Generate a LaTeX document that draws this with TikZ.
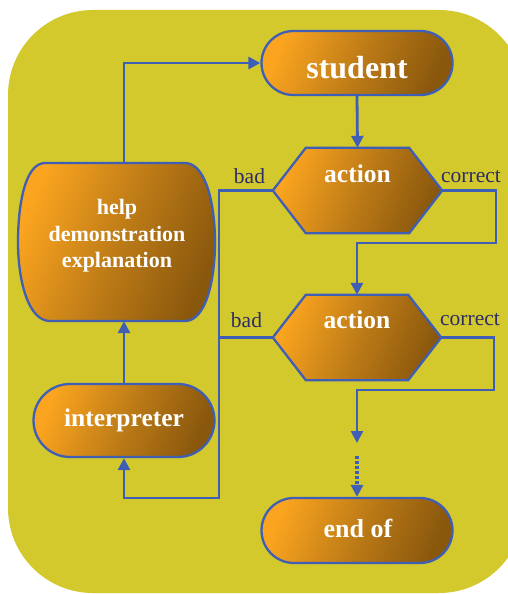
\documentclass[tikz,border=0pt]{standalone}
\usepackage{fontspec}
\setmainfont{Liberation Serif}
\usetikzlibrary{arrows.meta,shapes.misc}
\definecolor{bgyel}{HTML}{D3C92C}
\definecolor{lineblue}{HTML}{3F5EB5}
\definecolor{orlight}{HTML}{FAA41F}
\definecolor{ormid}{HTML}{BF7C17}
\definecolor{ordark}{HTML}{8A580D}
\definecolor{labnavy}{HTML}{2C2D66}
\begin{document}
\begin{tikzpicture}[x=1pt,y=-1pt,
  box/.style={draw=lineblue,line width=2.3pt,top color=orlight,bottom color=ordark,middle color=ormid,shading angle=68},
  stadium/.style={box,rounded rectangle,inner sep=0pt},
  holder/.style={draw=none,inner sep=0pt},
  conn/.style={draw=lineblue,line width=2.8pt,-{Triangle[length=12pt,width=12pt]}},
  plainline/.style={draw=lineblue,line width=2.8pt},
  dotconn/.style={draw=lineblue,line width=3.2pt,dash pattern=on 3pt off 2pt,-{Triangle[length=12pt,width=12pt]}},
  ntxt/.style={text=white,font=\bfseries\fontsize{25.5}{30}\selectfont,anchor=base,inner sep=0pt},
  lab/.style={text=labnavy,font=\fontsize{21.5}{24}\selectfont,anchor=base,inner sep=0pt}
]
\useasboundingbox (0,0) rectangle (508,594);
\clip (0,0) rectangle (508,594);
\fill[bgyel,rounded corners=85pt] (8,10) rectangle (524,593);

% shapes
\node[stadium,minimum width=191pt,minimum height=64pt] (student) at (357,63) {};
\node[holder,minimum width=169pt,minimum height=85pt] (a1) at (357.5,190.5) {};
\path[box] (a1.west) -- ([xshift=33pt]a1.north west) -- ([xshift=-33pt]a1.north east) -- (a1.east)
  -- ([xshift=-33pt]a1.south east) -- ([xshift=33pt]a1.south west) -- cycle;
\node[holder,minimum width=168pt,minimum height=85pt] (a2) at (357,337.5) {};
\path[box] (a2.west) -- ([xshift=33pt]a2.north west) -- ([xshift=-33pt]a2.north east) -- (a2.east)
  -- ([xshift=-33pt]a2.south east) -- ([xshift=33pt]a2.south west) -- cycle;
\node[holder,minimum width=197pt,minimum height=158pt] (help) at (116.5,242) {};
\path[box] (45,163) -- (185,163) .. controls (206,163) and (215,205) .. (215,242)
  .. controls (215,280) and (206,321) .. (185,321) -- (50,321)
  .. controls (28,321) and (18,280) .. (18,242) .. controls (18,205) and (25,163) .. (45,163) -- cycle;
\node[stadium,minimum width=181pt,minimum height=73pt] (interp) at (124,420.5) {};
\node[stadium,minimum width=191pt,minimum height=65pt] (endof) at (357,530.5) {};

% texts
\node[ntxt,font=\bfseries\fontsize{32}{36}\selectfont] (tstudent) at (357,78) {student};
\node[ntxt] (ta1) at (357.5,182) {action};
\node[ntxt] (ta2) at (357,328) {action};
\node[ntxt] (tinterp) at (124,426) {interpreter};
\node[ntxt,font=\bfseries\fontsize{26}{30}\selectfont] (tend) at (358,537) {end of};
\node[text=white,font=\bfseries\fontsize{22}{26.5}\selectfont,align=center,inner sep=0pt,anchor=center] (thelp) at (117,236) {help\\demonstration\\explanation};

% labels
\node[lab] (bad1) at (249.5,183) {bad};
\node[lab] (cor1) at (471,182) {correct};
\node[lab] (bad2) at (246.5,327) {bad};
\node[lab] (cor2) at (470,325) {correct};

% connector coordinates
\coordinate (c1) at (496,243);
\coordinate (c2) at (494,390);
\coordinate (badx) at (219,498);
\coordinate (d1) at (357,443);
\coordinate (d2) at (357,456);

% connectors
\draw[conn] (help.north -| interp.north) |- (student.west);
\draw[conn] (student.south) -- (a1.north);
\draw[conn] (a1.east) -| (c1) -| (a2.north);
\draw[conn] (a1.west) -| (badx) -| (interp.south);
\draw[plainline] (a2.west) -- (a2.west -| badx);
\draw[conn] (interp.north) -- (interp.north |- help.south);
\draw[conn] (a2.east) -| (c2) -| (d1);
\draw[dotconn] (d2) -- (endof.north);
\end{tikzpicture}
\end{document}
